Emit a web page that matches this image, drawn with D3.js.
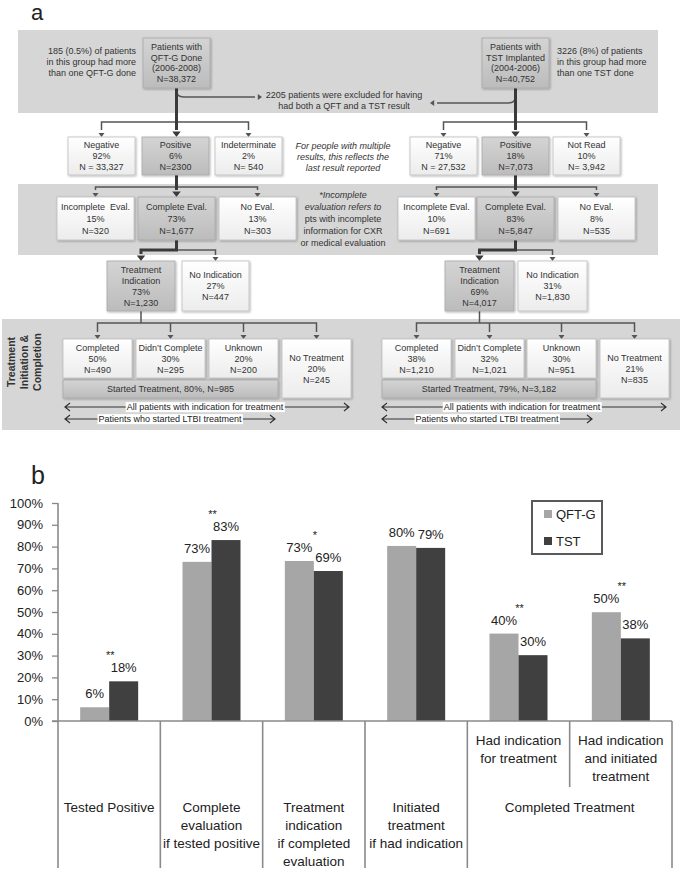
<!DOCTYPE html>
<html><head><meta charset="utf-8">
<script src="https://cdn.jsdelivr.net/npm/d3@7"></script>
<style>
body{margin:0;background:#fff;}
svg{display:block;font-family:"Liberation Sans",Arial,sans-serif;}
</style></head><body>
<svg id="c" width="681" height="872"></svg>
<script>
// ================= Panel a data =================
const qftStart = ["Patients with","QFT-G Done","(2006-2008)","N=38,372"];
const tstStart = ["Patients with","TST Implanted","(2004-2006)","N=40,752"];
const qftNote = ["185 (0.5%) of patients","in this group had more","than one QFT-G done"];
const tstNote = ["3226 (8%) of patients","in this group had more","than one TST done"];
const exclusionNote = ["2205 patients were excluded for having","had both a QFT and a TST result"];
const multipleNote = ["For people with multiple","results, this reflects the","last result reported"];
const incompleteNote = ["*Incomplete","evaluation refers to","pts with incomplete","information for CXR","or medical evaluation"];
const qftResults = [["Negative","92%","N = 33,327"],["Positive","6%","N=2300"],["Indeterminate","2%","N= 540"]];
const tstResults = [["Negative","71%","N = 27,532"],["Positive","18%","N=7,073"],["Not Read","10%","N= 3,942"]];
const qftEval = [["Incomplete  Eval.","15%","N=320"],["Complete Eval.","73%","N=1,677"],["No Eval.","13%","N=303"]];
const tstEval = [["Incomplete Eval.","10%","N=691"],["Complete Eval.","83%","N=5,847"],["No Eval.","8%","N=535"]];
const qftIndication = [["Treatment","Indication","73%","N=1,230"],["No Indication","27%","N=447"]];
const tstIndication = [["Treatment","Indication","69%","N=4,017"],["No Indication","31%","N=1,830"]];
const qftTreatment = [["Completed","50%","N=490"],["Didn\u2019t Complete","30%","N=295"],["Unknown","20%","N=200"],["No Treatment","20%","N=245"]];
const tstTreatment = [["Completed","38%","N=1,210"],["Didn\u2019t Complete","32%","N=1,021"],["Unknown","30%","N=951"],["No Treatment","21%","N=835"]];
const qftStarted = "Started Treatment, 80%, N=985";
const tstStarted = "Started Treatment, 79%, N=3,182";
const rangeLabels = ["All patients with indication for treatment","Patients who started LTBI treatment"];
const sideTitle = ["Treatment","Initiation &","Completion"];

// ================= Panel b data =================
const categoryLines = [["Tested Positive"],["Complete","evaluation","if tested positive"],["Treatment","indication","if completed","evaluation"],["Initiated","treatment","if had indication"],["Had indication","for treatment"],["Had indication","and initiated","treatment"]];
const groupLabel = "Completed Treatment";
const series = ["QFT-G","TST"];
const qftValues = [6.3, 73.0, 73.4, 80.3, 40.1, 49.9];
const tstValues = [18.2, 83.0, 68.8, 79.4, 30.2, 37.9];
const significance = ["**","**","*","","**","**"];
const yTicks = [0,10,20,30,40,50,60,70,80,90,100];

// ================= drawing =================
const svg = d3.select("#c");
const defs = svg.append("defs");
function grad(id,c1,c2){const g=defs.append("linearGradient").attr("id",id).attr("x1",0).attr("y1",0).attr("x2",0).attr("y2",1);
  g.append("stop").attr("offset","0%").attr("stop-color",c1);g.append("stop").attr("offset","100%").attr("stop-color",c2);}
grad("gw","#ffffff","#ececec");
grad("gg","#d4d4d4","#bcbcbc");
const f = defs.append("filter").attr("id","sh").attr("x","-20%").attr("y","-20%").attr("width","140%").attr("height","140%");
f.append("feDropShadow").attr("dx",1).attr("dy",1).attr("stdDeviation",0.8).attr("flood-color","#000").attr("flood-opacity",0.3);

const A = svg.append("g").attr("font-size",9).attr("fill","#333");
const txtCol = "#333", lineCol = "#555";

// panel labels
svg.append("text").attr("x",31).attr("y",20).attr("font-size",22).attr("fill","#222").text("a");
svg.append("text").attr("x",31).attr("y",484).attr("font-size",25).attr("fill","#222").text("b");

// bands
const bands = [[18,30,640,83],[18,184,640,71],[2,319,678,111]];
A.selectAll("rect.band").data(bands).join("rect").attr("class","band")
  .attr("x",d=>d[0]).attr("y",d=>d[1]).attr("width",d=>d[2]).attr("height",d=>d[3]).attr("fill","#d6d6d6");

function box(x,y,w,h,lines,grey,lh){
  A.append("rect").attr("x",x).attr("y",y).attr("width",w).attr("height",h)
    .attr("fill",grey?"url(#gg)":"url(#gw)").attr("stroke",grey?"#a8a8a8":"#bdbdbd").attr("stroke-width",0.8).attr("filter","url(#sh)");
  const cy=y+h/2;
  lines.forEach((t,i)=>A.append("text").attr("x",x+w/2).attr("y",cy+(i-(lines.length-1)/2)*lh).attr("dy","0.35em")
    .attr("text-anchor","middle").attr("fill",txtCol).style("white-space","pre").text(t));
}
function line(pts,w){A.append("path").attr("d",d3.line()(pts)).attr("fill","none").attr("stroke",w>2?"#3a3a3a":lineCol).attr("stroke-width",w);}
function arrowDown(x,yTip,s){A.append("path").attr("d",`M${x-s},${yTip-s*1.3}L${x+s},${yTip-s*1.3}L${x},${yTip}Z`).attr("fill",s>3.5?"#3a3a3a":lineCol);}
function arrowH(xTip,y,dir,s){A.append("path").attr("d",`M${xTip-dir*s*1.4},${y-s}L${xTip-dir*s*1.4},${y+s}L${xTip},${y}Z`).attr("fill",lineCol);}
function multiText(lines,x,y,lh,anchor,italic){
  lines.forEach((t,i)=>A.append("text").attr("x",x).attr("y",y+i*lh).attr("dy","0.35em").attr("text-anchor",anchor)
    .attr("font-style",italic?"italic":null).attr("fill",txtCol).text(t));
}

const sides = [
  {start:qftStart, sx:143, note:qftNote, nx:136, na:"end", res:qftResults, rx:[68,142,215],
   ev:qftEval, ex:[57,138,219], ind:qftIndication, ix:[107,182], iw:[68,67], tr:qftTreatment,
   tx:[63,136,209,282], started:qftStarted, all:[65,349], st:[65,275], excl:{y:97,dir:1,end:262}},
  {start:tstStart, sx:482, note:tstNote, nx:557, na:"start", res:tstResults, rx:[410,482,553],
   ev:tstEval, ex:[398,477,558], ind:tstIndication, ix:[445,518], iw:[69,69], tr:tstTreatment,
   tx:[382,455,527,600], started:tstStarted, all:[382,666], st:[382,592], excl:{y:103,dir:-1,end:430}}
];

sides.forEach(s=>{
  const cx = s.sx+33.5;
  line([[cx,88],[cx,s.excl.y]],3);
  A.append("path").attr("d",`M${cx},${s.excl.y-7}Q${cx},${s.excl.y} ${cx+s.excl.dir*7},${s.excl.y}L${s.excl.end-s.excl.dir*7},${s.excl.y}`)
    .attr("fill","none").attr("stroke",lineCol).attr("stroke-width",1.5);
  arrowH(s.excl.end,s.excl.y,s.excl.dir,3);
  const rc = s.rx.map(x=>x+33.5);
  line([[rc[0],130],[rc[0],122],[rc[2],122],[rc[2],130]],1.5);
  arrowDown(rc[0],137,3); arrowDown(rc[2],137,3);
  line([[cx,88],[cx,130]],3); arrowDown(cx,137,4.2);
  const ec = s.ex.map(x=>x+38.5);
  line([[ec[0],190],[ec[0],187],[ec[2],187],[ec[2],190]],1.5);
  arrowDown(ec[0],197,3); arrowDown(ec[2],197,3);
  line([[cx,175],[cx,190]],3); arrowDown(cx,197,4.2);
  const ic = [s.ix[0]+s.iw[0]/2, s.ix[1]+s.iw[1]/2];
  line([[ec[1],250],[ic[1],250],[ic[1],255]],1.5); arrowDown(ic[1],261,3);
  line([[ec[1],240],[ec[1],250],[ic[0],250],[ic[0],254]],3); arrowDown(ic[0],261,4.2);
  const tc = s.tx.map(x=>x+34.5);
  line([[ic[0],311],[ic[0],323]],1.5);
  line([[tc[0],332],[tc[0],323],[tc[3],323],[tc[3],332]],1.5);
  line([[tc[1],323],[tc[1],332]],1.5); line([[tc[2],323],[tc[2],332]],1.5);
  tc.forEach(x=>arrowDown(x,339,3));

  box(s.sx,38,67,50,s.start,true,10.5);
  multiText(s.note,s.nx,51,11,s.na,false);
  s.res.forEach((r,i)=>box(s.rx[i],137,67,38,r,i===1,11));
  s.ev.forEach((r,i)=>box(s.ex[i],197,77,43,r,i===1,12));
  s.ind.forEach((r,i)=>box(s.ix[i],261,s.iw[i],50,r,i===0,11));
  s.tr.forEach((r,i)=>box(s.tx[i],339,69,i===3?59:39,r,false,11));
  box(s.tx[0],380,s.tx[2]+69-s.tx[0],18,[s.started],true,11);

  [[s.all,407,0],[s.st,419,1]].forEach(([rg,y,k])=>{
    const p=A.append("g");
    p.append("path").attr("d",`M${rg[0]},${y}L${rg[1]},${y}M${rg[0]+5},${y-4}L${rg[0]},${y}L${rg[0]+5},${y+4}M${rg[1]-5},${y-4}L${rg[1]},${y}L${rg[1]-5},${y+4}`)
      .attr("fill","none").attr("stroke","#333").attr("stroke-width",1.2);
    const t=p.append("text").attr("x",(rg[0]+rg[1])/2+(k===0?-2:-0)).attr("y",y).attr("dy","0.35em").attr("text-anchor","middle").attr("fill","#222").text(rangeLabels[k]);
    const bb=t.node().getBBox();
    p.insert("rect","text").attr("x",bb.x-1).attr("y",bb.y).attr("width",bb.width+2).attr("height",bb.height).attr("fill","#fff");
  });
});
multiText(exclusionNote,344,95,11,"middle",false);
multiText(multipleNote,343,146,11,"middle",true);
incompleteNote.forEach((t,i)=>A.append("text").attr("x",343).attr("y",195+i*12).attr("dy","0.35em").attr("text-anchor","middle")
  .attr("font-style",i<2?"italic":null).attr("fill",txtCol).text(t));
sideTitle.forEach((t,i)=>A.append("text").attr("transform",`translate(${11+i*13},362) rotate(-90)`).attr("dy","0.35em")
  .attr("text-anchor","middle").attr("font-weight","bold").attr("font-size",10.5).attr("fill","#333").text(t));

// ================= Panel b =================
const B = svg.append("g").attr("fill","#222");
const x0 = d3.scaleBand().domain(d3.range(qftValues.length)).range([58,672]);
const x1 = d3.scaleBand().domain(series).range([0,58]);
const y = d3.scaleLinear().domain([0,100]).range([721,503]);
const off = (x0.bandwidth()-58)/2;
const data = qftValues.map((v,i)=>({i, vals:[{s:"QFT-G",v},{s:"TST",v:tstValues[i]}]}));
const col = {"QFT-G":"#a6a6a6","TST":"#404040"};
const grp = B.selectAll("g.grp").data(data).join("g").attr("class","grp").attr("transform",d=>`translate(${x0(d.i)+off},0)`);
grp.selectAll("rect").data(d=>d.vals).join("rect").attr("x",d=>x1(d.s)).attr("width",x1.bandwidth())
  .attr("y",d=>y(d.v)).attr("height",d=>y(0)-y(d.v)).attr("fill",d=>col[d.s]);
grp.selectAll("text.val").data(d=>d.vals).join("text").attr("class","val").attr("x",d=>x1(d.s)+x1.bandwidth()/2)
  .attr("y",d=>y(d.v)-9).attr("text-anchor","middle").attr("font-size",13).text(d=>Math.round(d.v)+"%");
grp.append("text").attr("x",x1("TST")+1).attr("y",d=>y(Math.max(d.vals[0].v,d.vals[1].v))-22)
  .attr("text-anchor","middle").attr("font-size",11).text(d=>significance[d.i]);

const ax = B.append("g").attr("transform","translate(58,0)").call(d3.axisLeft(y).tickValues(yTicks).tickSize(6).tickFormat(d=>d+"%"));
ax.select(".domain").remove();
ax.selectAll(".tick line").attr("stroke","#888").attr("stroke-width",1.3);
ax.selectAll(".tick text").attr("font-size",13).attr("fill","#222").attr("x",-15).attr("font-family","Liberation Sans, Arial, sans-serif");
const axCol="#8a8a8a";
B.append("line").attr("x1",58).attr("x2",58).attr("y1",y(100)).attr("y2",868).attr("stroke",axCol).attr("stroke-width",1.6);
B.append("line").attr("x1",52).attr("x2",672).attr("y1",y(0)).attr("y2",y(0)).attr("stroke",axCol).attr("stroke-width",1.6);
[1,2,3,4].forEach(i=>B.append("line").attr("x1",x0(i)).attr("x2",x0(i)).attr("y1",y(0)).attr("y2",868).attr("stroke",axCol).attr("stroke-width",1.6));
B.append("line").attr("x1",672).attr("x2",672).attr("y1",y(0)).attr("y2",868).attr("stroke",axCol).attr("stroke-width",1.6);
B.append("line").attr("x1",x0(5)).attr("x2",x0(5)).attr("y1",y(0)).attr("y2",787).attr("stroke",axCol).attr("stroke-width",1.6);
categoryLines.forEach((ls,i)=>{
  const top = i>=4?740:807;
  ls.forEach((t,j)=>B.append("text").attr("x",x0(i)+x0.bandwidth()/2).attr("y",top+j*18).attr("dy","0.35em")
    .attr("text-anchor","middle").attr("font-size",13.5).text(t));
});
B.append("text").attr("x",x0(5)).attr("y",807).attr("dy","0.35em").attr("text-anchor","middle").attr("font-size",13.5).text(groupLabel);
B.append("rect").attr("x",532).attr("y",501).attr("width",70).attr("height",53).attr("fill","#fff").attr("stroke","#5a5a5a").attr("stroke-width",2);
series.forEach((s,i)=>{
  B.append("rect").attr("x",544).attr("y",510+i*27).attr("width",8).attr("height",8).attr("fill",col[s]);
  B.append("text").attr("x",556).attr("y",514+i*27).attr("dy","0.35em").attr("font-size",13).text(s);
});
</script></body></html>
